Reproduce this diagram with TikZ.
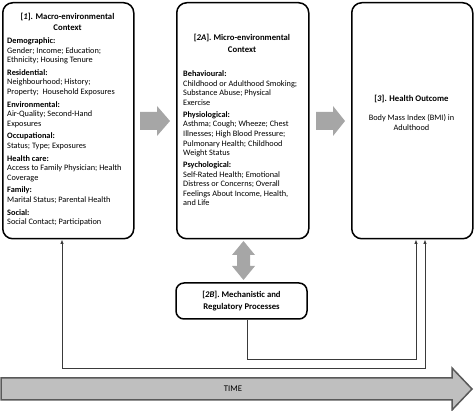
\documentclass[tikz,border=0pt]{standalone}
\usepackage{fontspec}
\setmainfont{Carlito}
\usetikzlibrary{arrows.meta}
\definecolor{blockgray}{HTML}{A6A6A6}
\definecolor{timegray}{HTML}{BFBFBF}
\definecolor{timeedge}{HTML}{595959}
\definecolor{linegray}{HTML}{3A3A3A}
\begin{document}
\begin{tikzpicture}[x=1pt,y=-1pt,
  >={Latex[length=4.5pt,width=3.6pt]},
  box/.style={draw=black, line width=1.5pt, rounded corners=10pt, inner sep=0pt, anchor=north west},
  txt/.style={font=\fontsize{8.3}{9.6}\selectfont, inner sep=0pt, align=left, anchor=north west},
  ttl/.style={font=\fontsize{8.7}{11.5}\selectfont\bfseries, inner sep=0pt, align=center, anchor=north},
  ctr/.style={font=\fontsize{8.3}{9.8}\selectfont, inner sep=0pt, align=center, anchor=north},
  conn/.style={draw=linegray, line width=0.9pt},
  blk/.style={fill=blockgray, draw=none}]
\useasboundingbox (0,0) rectangle (474,411);

% boxes
\node[box, minimum width=131pt, minimum height=236pt] (b1) at (2,2) {};
\node[box, minimum width=132pt, minimum height=236pt] (b2a) at (176,2) {};
\node[box, minimum width=121pt, minimum height=236pt] (b3) at (351,2) {};
\node[box, rounded corners=8pt, minimum width=131pt, minimum height=36pt, anchor=center,
      font=\fontsize{8.7}{11.8}\selectfont\bfseries, align=center] (b2b) at (241.5,301)
      {[\textit{2B}]. Mechanistic and\\Regulatory Processes};

% box 1 text
\node[ttl] (t1) at (67.5,12.5) {[\textit{1}]. Macro-environmental\\Context};
\node[txt] (x1) at (7,37.5) {%
\textbf{Demographic:}\\Gender; Income; Education;\\Ethnicity; Housing Tenure\\[3pt]
\textbf{Residential:}\\Neighbourhood; History;\\Property;\ \ Household Exposures\\[3pt]
\textbf{Environmental:}\\Air-Quality; Second-Hand\\Exposures\\[3pt]
\textbf{Occupational:}\\Status; Type; Exposures\\[3pt]
\textbf{Health care:}\\Access to Family Physician; Health\\Coverage\\[3pt]
\textbf{Family:}\\Marital Status; Parental Health\\[3pt]
\textbf{Social:}\\Social Contact; Participation};

% box 2A text
\node[ttl] (t2) at (242,34) {[\textit{2A}]. Micro-environmental\\Context};
\node[txt] (x2) at (183,70.5) {%
\textbf{Behavioural:}\\Childhood or Adulthood Smoking;\\Substance Abuse; Physical\\Exercise\\[2.3pt]
\textbf{Physiological:}\\Asthma; Cough; Wheeze; Chest\\Illnesses; High Blood Pressure;\\Pulmonary Health; Childhood\\Weight Status\\[2.3pt]
\textbf{Psychological:}\\Self-Rated Health; Emotional\\Distress or Concerns; Overall\\Feelings About Income, Health,\\and Life};

% box 3 text
\node[ttl] (t3) at (411.5,94.5) {[\textit{3}]. Health Outcome};
\node[ctr] (x3) at (411.5,114) {Body Mass Index (BMI) in\\Adulthood};

% block arrows
\fill[blk] (140,112) -- (157,112) -- (157,106) -- (170,121) -- (157,136) -- (157,130) -- (140,130) -- cycle;
\fill[blk] (316,112) -- (333,112) -- (333,106) -- (345,121) -- (333,136) -- (333,130) -- (316,130) -- cycle;
\fill[blk] (243.5,241) -- (255,255) -- (250,255) -- (250,266) -- (255,266) -- (243.5,280)
  -- (232,266) -- (237,266) -- (237,255) -- (232,255) -- cycle;

% connectors
\coordinate (c1) at (62,368);
\coordinate (c1r) at (425,368);
\coordinate (c2) at (247,359);
\coordinate (c2r) at (416,359);
\draw[conn, <->] (b1.south -| c1) -- (c1) -- (c1r) -- (b3.south -| c1r);
\draw[conn, ->] (b2b.south -| c2) -- (c2) -- (c2r) -- (b3.south -| c2r);

% time arrow
\draw[fill=timegray, draw=timeedge, line width=1.5pt, line join=miter]
  (1,378) -- (452,378) -- (452,368) -- (472,389) -- (452,410) -- (452,400) -- (1,400) -- cycle;
\node[font=\fontsize{8.7}{9}\selectfont, inner sep=0pt] (time) at (233,389) {TIME};
\end{tikzpicture}
\end{document}
